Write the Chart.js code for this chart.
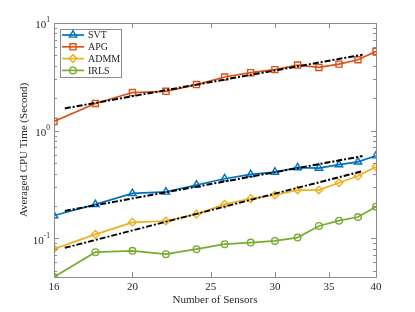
<!DOCTYPE html>
<html>
<head>
<meta charset="utf-8">
<script src="https://cdn.jsdelivr.net/npm/chart.js@4.4.0/dist/chart.umd.min.js"></script>
<style>
  html, body { margin: 0; padding: 0; background: #fff; }
</style>
</head>
<body>
<canvas id="c" width="415" height="312"></canvas>
<script>
const sensors = [16, 18, 20, 22, 24, 26, 28, 30, 32, 34, 36, 38, 40];
const svt  = [0.163, 0.207, 0.262, 0.270, 0.313, 0.358, 0.393, 0.413, 0.454, 0.450, 0.484, 0.513, 0.586];
const apg  = [1.22, 1.79, 2.26, 2.32, 2.68, 3.15, 3.46, 3.69, 4.07, 3.87, 4.15, 4.56, 5.45];
const admm = [0.080, 0.109, 0.141, 0.145, 0.168, 0.207, 0.234, 0.253, 0.281, 0.281, 0.329, 0.379, 0.462];
const irls = [0.0438, 0.0745, 0.0766, 0.0714, 0.0794, 0.0883, 0.0914, 0.0948, 0.1017, 0.1305, 0.146, 0.158, 0.197];

// fitted trend lines (end points)
const fitX    = [16.5, 38.5];
const fitApg  = [1.61, 5.08];
const fitSvt  = [0.180, 0.581];
const fitAdmm = [0.0817, 0.422];

const xTicks = [16, 20, 25, 30, 35, 40];
const yTicks = [0.1, 1, 10];
const yExps  = ['-1', '0', '1'];

const FONT = "'Liberation Serif', 'Times New Roman', serif";
const AXIS = '#8c8c8c';
const TXT  = '#262626';

const series = [
  { label: 'SVT',  data: svt,  color: '#0072BD', style: 'triangle', r: 4.3 },
  { label: 'APG',  data: apg,  color: '#D95319', style: 'rect',     r: 4.3 },
  { label: 'ADMM', data: admm, color: '#EDB120', style: 'rectRot',  r: 3.8 },
  { label: 'IRLS', data: irls, color: '#77AC30', style: 'circle',   r: 3.3 },
];

const pts = (xs, ys) => xs.map((x, i) => ({ x, y: ys[i] }));

const datasets = series.map(s => ({
  label: s.label,
  data: pts(sensors, s.data),
  borderColor: s.color,
  backgroundColor: 'rgba(255,255,255,0)',
  borderWidth: 1.7,
  pointStyle: s.style,
  pointRadius: s.r,
  pointBorderWidth: 1.4,
  pointBackgroundColor: 'rgba(255,255,255,0)',
  pointBorderColor: s.color,
  order: 1,
})).concat([fitApg, fitSvt, fitAdmm].map(f => ({
  label: '',
  data: pts(fitX, f),
  borderColor: '#000',
  borderWidth: 2,
  borderDash: [6, 2, 2, 2],
  pointRadius: 0,
  order: 0,
})));

const frame = {
  id: 'frame',
  afterDatasetsDraw(chart) {
    const { ctx, chartArea: a, scales: { x, y } } = chart;
    ctx.save();
    ctx.strokeStyle = AXIS;
    ctx.lineWidth = 1;
    ctx.strokeRect(Math.round(a.left) + 0.5, Math.round(a.top) + 0.5,
      Math.round(a.right - a.left), Math.round(a.bottom - a.top));

    ctx.beginPath();
    xTicks.forEach(v => {
      const px = Math.round(x.getPixelForValue(v)) + 0.5;
      ctx.moveTo(px, a.bottom); ctx.lineTo(px, a.bottom - 5);
      ctx.moveTo(px, a.top); ctx.lineTo(px, a.top + 5);
    });
    for (let d = -2; d <= 1; d++) {
      for (let m = 1; m <= 9; m++) {
        const v = m * Math.pow(10, d);
        if (v < y.min || v > y.max) continue;
        const py = Math.round(y.getPixelForValue(v)) + 0.5;
        const len = m === 1 ? 5 : 3;
        ctx.moveTo(a.left, py); ctx.lineTo(a.left + len, py);
        ctx.moveTo(a.right, py); ctx.lineTo(a.right - len, py);
      }
    }
    ctx.stroke();

    ctx.fillStyle = TXT;
    ctx.textBaseline = 'middle';

    // x tick labels
    ctx.font = '11px ' + FONT;
    ctx.textAlign = 'center';
    xTicks.forEach(v => {
      ctx.fillText(String(v), x.getPixelForValue(v), a.bottom + 10.5);
    });

    // y tick labels 10^n
    yTicks.forEach((v, i) => {
      const py = y.getPixelForValue(v);
      ctx.font = '7.5px ' + FONT;
      const ew = ctx.measureText(yExps[i]).width;
      ctx.textAlign = 'left';
      const right = a.left - 4;
      ctx.fillText(yExps[i], right - ew, py - 2.5);
      ctx.font = '11px ' + FONT;
      ctx.textAlign = 'right';
      ctx.fillText('10', right - ew, py + 2.5);
    });

    // legend
    const lx = 60, ly = 29, lw = 61, lh = 48;
    ctx.fillStyle = '#fff';
    ctx.fillRect(lx, ly, lw, lh);
    ctx.strokeStyle = AXIS;
    ctx.strokeRect(lx + 0.5, ly + 0.5, lw, lh);
    ctx.font = '10px ' + FONT;
    ctx.textAlign = 'left';
    series.forEach((s, i) => {
      const cy = ly + 6 + i * 11.8;
      ctx.strokeStyle = s.color;
      ctx.lineWidth = 1.7;
      ctx.beginPath(); ctx.moveTo(lx + 2, cy); ctx.lineTo(lx + 24, cy); ctx.stroke();
      ctx.lineWidth = 1.4;
      ctx.fillStyle = 'rgba(255,255,255,0)';
      Chart.helpers.drawPoint(ctx, { pointStyle: s.style, radius: s.r, rotation: 0, borderWidth: 1.4 }, lx + 13, cy);
      ctx.fillStyle = TXT;
      ctx.fillText(s.label, lx + 28, cy + 0.5);
    });
    ctx.restore();
  }
};

new Chart(document.getElementById('c'), {
  type: 'line',
  data: { datasets },
  options: {
    responsive: false,
    animation: false,
    layout: { padding: { top: 23, right: 39, left: 0, bottom: 0 } },
    plugins: { legend: { display: false }, tooltip: { enabled: false } },
    scales: {
      x: {
        type: 'logarithmic', min: 16, max: 40,
        afterBuildTicks: s => { s.ticks = xTicks.map(v => ({ value: v })); },
        afterFit: s => { s.height = 35; },
        grid: { display: false, drawTicks: false },
        border: { display: false },
        ticks: { display: false },
        title: { display: true, text: 'Number of Sensors', color: TXT,
                 font: { family: FONT, size: 11 }, padding: { top: 0, bottom: 5 } },
      },
      y: {
        type: 'logarithmic', min: 0.0438, max: 10,
        afterBuildTicks: s => { s.ticks = yTicks.map(v => ({ value: v })); },
        afterFit: s => { s.width = 54; },
        grid: { display: false, drawTicks: false },
        border: { display: false },
        ticks: { display: false },
        title: { display: true, text: 'Averaged CPU Time (Second)', color: TXT,
                 font: { family: FONT, size: 11 }, padding: { top: 18, bottom: 0 } },
      },
    },
  },
  plugins: [frame],
});
</script>
</body>
</html>
